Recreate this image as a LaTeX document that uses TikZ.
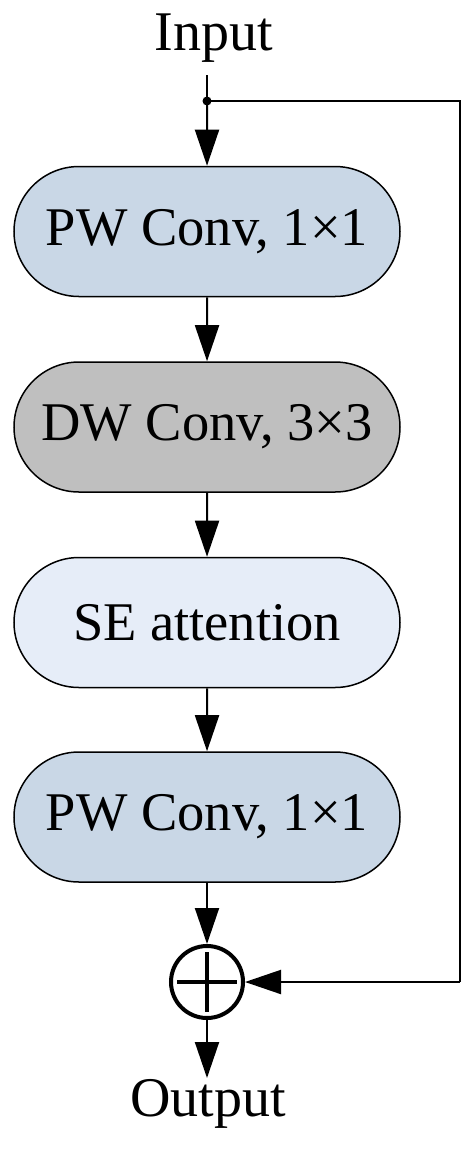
\documentclass[tikz,border=0pt]{standalone}
\usepackage{fontspec}
\setmainfont{Liberation Serif}
\usetikzlibrary{shapes.misc,arrows.meta}
\definecolor{pwblue}{HTML}{C9D7E6}
\definecolor{dwgrey}{HTML}{BFBFBF}
\definecolor{selight}{HTML}{E6EDF8}
\tikzset{
  blk/.style={rounded rectangle, draw=black, line width=1.5pt, minimum width=386pt, minimum height=130pt, inner sep=0pt, font=\fontsize{54.5}{62}\selectfont},
  arr/.style={line width=2pt, -{Triangle[length=36pt,width=24pt]}},
  lbl/.style={font=\fontsize{56}{62}\selectfont, inner sep=0pt},
  conn/.style={line width=2pt}
}
\begin{document}
\begin{tikzpicture}[x=1pt,y=-1pt]
\useasboundingbox (0,0) rectangle (472,1149);
\node[lbl] (in) at (214,38) {Input};
\coordinate (top) at (207,75);
\coordinate (dot) at (207,101);
\coordinate (tr) at (460,101);
\coordinate (br) at (460,982);
\node[blk, fill=pwblue] (b1) at (207,231.5) {PW Conv, 1×1};
\node[blk, fill=dwgrey] (b2) at (207,427) {DW Conv, 3×3};
\node[blk, fill=selight] (b3) at (207,622.5) {SE attention};
\node[blk, fill=pwblue] (b4) at (207,817) {PW Conv, 1×1};
\node[circle, draw=black, line width=4pt, minimum size=72pt, inner sep=0pt] (sum) at (207,982) {};
\draw[line width=4pt] (sum.center) ++(-30,0) -- ++(60,0);
\draw[line width=4pt] (sum.center) ++(0,-30) -- ++(0,60);
\node[lbl] (out) at (208,1104) {Output};
\draw[conn] (top) -- (dot);
\fill (dot) circle (4.5pt);
\draw[arr] (dot) -- (b1);
\draw[arr] (b1) -- (b2);
\draw[arr] (b2) -- (b3);
\draw[arr] (b3) -- (b4);
\draw[arr] (b4) -- (sum);
\draw[conn] (dot) -- (tr) -- (br);
\draw[arr] (br) -- (sum);
\draw[arr] (sum) -- (207,1078);
\end{tikzpicture}
\end{document}
